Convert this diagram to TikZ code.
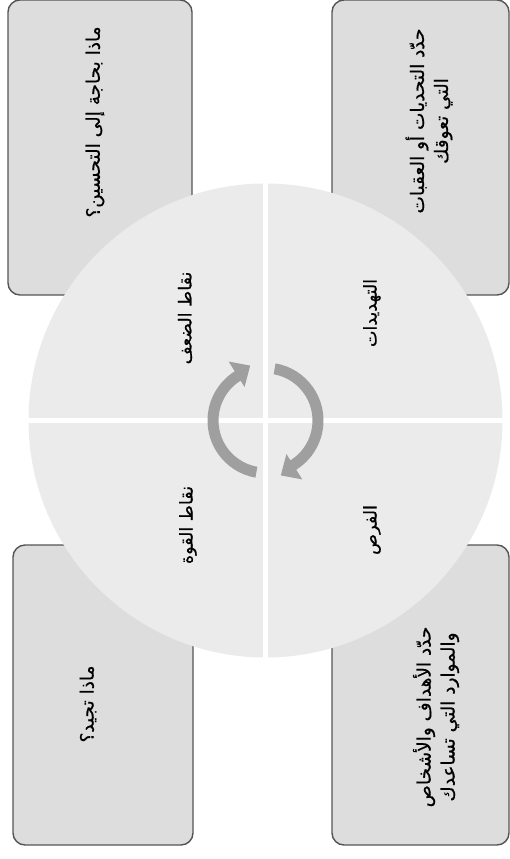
\documentclass[tikz,border=0pt]{standalone}
\usepackage{fontspec}
\TeXXeTstate=1
\newfontfamily\arabicfont[Script=Arabic,FakeBold=0.5]{DejaVu Sans}
\definecolor{circfill}{HTML}{EBEBEB}
\definecolor{boxfill}{HTML}{DDDDDD}
\definecolor{boxline}{HTML}{555555}
\definecolor{arrowc}{HTML}{9F9F9F}
\tikzset{
  card/.style={draw=boxline, fill=boxfill, line width=1.4pt, rounded corners=12pt, inner sep=0pt},
  cardtext/.style={rotate=90, align=center, inner sep=0pt, font=\arabicfont\fontsize{18.5}{24}\selectfont},
  quadtext/.style={rotate=90, inner sep=0pt, font=\arabicfont\fontsize{17.5}{20}\selectfont},
}
\begin{document}
\begin{tikzpicture}[x=1pt,y=1pt]
\useasboundingbox (0,0) rectangle (510,-859);
% cards
\node[card, minimum width=184pt, minimum height=295pt] (tlbox) at (100,-147.5) {};
\node[card, minimum width=177pt, minimum height=295pt] (trbox) at (420.5,-147.5) {};
\node[card, minimum width=180pt, minimum height=300pt] (blbox) at (103,-695) {};
\node[card, minimum width=177pt, minimum height=300pt] (brbox) at (420.5,-695) {};
% circle
\node[circle, fill=circfill, minimum size=474pt, inner sep=0pt] (disc) at (265.5,-420.5) {};
\fill[white] (263,-183) rectangle (268,-658);
\fill[white] (28,-418) rectangle (503,-423);
% cycle arrows
\begin{scope}[shift={(265.5,-420.5)}]
\fill[arrowc] (260:58) arc[start angle=260, end angle=122, radius=58]
  -- (122:69.5) -- (105.6:57) -- (122:39.5) -- (122:47)
  arc[start angle=122, end angle=260, radius=47] -- cycle;
\fill[arrowc] (80:58) arc[start angle=80, end angle=-58, radius=58]
  -- (-58:69.5) -- (-74.4:57) -- (-58:39.5) -- (-58:47)
  arc[start angle=-58, end angle=80, radius=47] -- cycle;
\end{scope}
% quadrant labels
\node[quadtext] (weak) at (185,-318) {\beginR نقاط الضعف\endR};
\node[quadtext] (threat) at (372,-313) {\beginR التهديدات\endR};
\node[quadtext] (strong) at (188,-525) {\beginR نقاط القوة\endR};
\node[quadtext] (opp) at (372,-530) {\beginR الفرص\endR};
% card texts
\node[cardtext] (tltext) at (95,-122) {\beginR ماذا بحاجة إلى التحسين؟\endR};
\node[cardtext] (trtext) at (429,-121) {\beginR حدّد التحديات أو العقبات\endR\\\beginR التي تعوقك\endR};
\node[cardtext] (bltext) at (88,-704) {\beginR ماذا تجيد؟\endR};
\node[cardtext] (brtext) at (436,-717) {\beginR حدّد الأهداف والأشخاص\endR\\\beginR والموارد التي تساعدك\endR};
\end{tikzpicture}
\end{document}
